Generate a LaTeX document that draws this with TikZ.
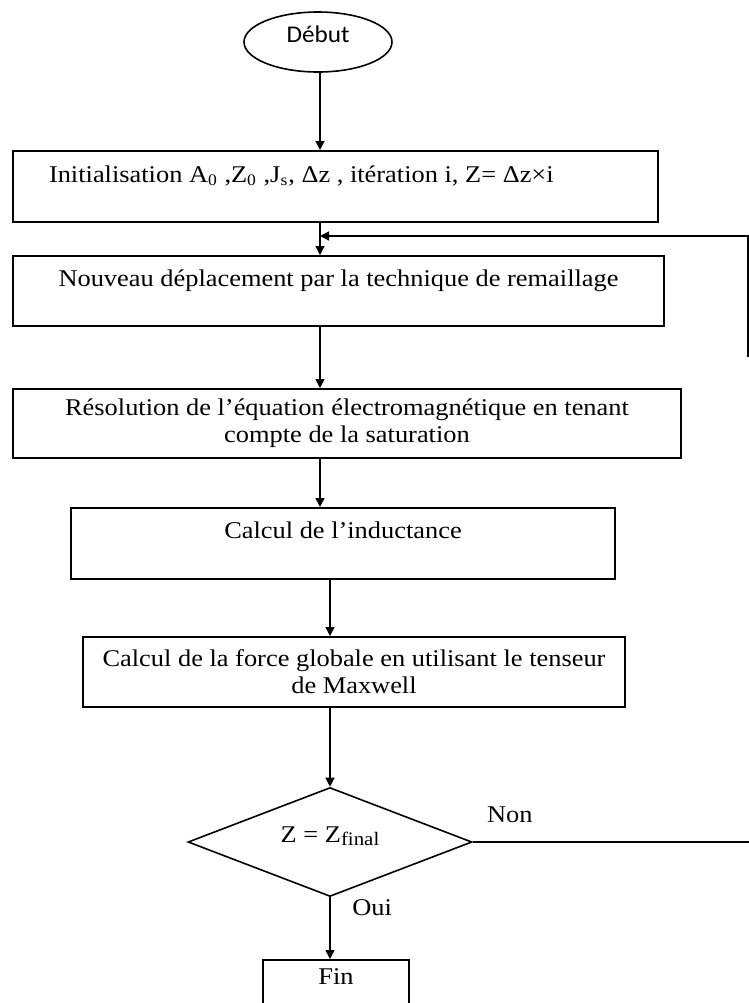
\documentclass[tikz,border=0pt]{standalone}
\usepackage{fontspec}
\setmainfont[FakeStretch=1.1]{Liberation Serif}
\newfontfamily\calibrifont[FakeStretch=1.05]{Carlito}
\usetikzlibrary{shapes.geometric,arrows.meta}

\begin{document}
\begin{tikzpicture}[x=0.5pt,y=-0.5pt,
        font=\fontsize{12}{13.5}\selectfont,
        stepbox/.style={draw,line width=1pt,rectangle,inner sep=0pt,anchor=north west,align=center},
        flow/.style={line width=0.7pt,-{Triangle[length=4.5pt,width=4.5pt]}},
        plain/.style={line width=0.7pt}]
    \useasboundingbox (0,0) rectangle (749,1003);
    \coordinate (axis) at (320,0);

    \node[draw,ellipse,line width=0.8pt,minimum width=74pt,minimum height=30pt,inner sep=0pt,
        text height=4pt,text depth=4pt,font=\calibrifont\fontsize{12}{14}\selectfont] (start) at (318,42) {Début};
    \node[stepbox,text height=15.5pt,text depth=20pt] (init) at (12,150)
        {\makebox[322.5pt][l]{\hspace{18pt}Initialisation A\textsubscript{0} ,Z\textsubscript{0} ,J\textsubscript{s}, Δz , itération i, Z= Δz×i}};
    \node[stepbox,minimum width=325.5pt,text height=15pt,text depth=20pt] (remesh) at (12,255)
        {Nouveau déplacement par la technique de remaillage};
    \node[stepbox,minimum width=334pt,minimum height=34.5pt] (solve) at (12,388)
        {Résolution de l’équation électromagnétique en tenant\\compte de la saturation};
    \node[stepbox,minimum width=272pt,text height=15pt,text depth=20.5pt] (induct) at (70,507)
        {Calcul de l’inductance};
    \node[stepbox,minimum width=271pt,minimum height=35pt] (force) at (82,636)
        {Calcul de la force globale en utilisant le tenseur\\de Maxwell};
    \node[draw,diamond,aspect=2.6,line width=0.8pt,minimum width=142pt,minimum height=54.5pt,inner sep=0pt,
        text height=4pt,text depth=4pt] (test) at (330,842)
        {Z = Z\raisebox{-0.35ex}{\fontsize{9.5}{10}\selectfont final}};
    \node[stepbox,minimum width=73pt,text height=12pt,text depth=20pt] (stop) at (262,959) {Fin};

    \coordinate (loop top) at (748,236);
    \coordinate (loop end) at (748,357);
    \coordinate (non end) at (749,842);

    \draw[flow] (start.south -| axis) -- (init.north -| axis);
    \draw[flow] (init.south -| axis) -- (remesh.north -| axis);
    \draw[flow] (loop end) -- (loop top) -- (loop top -| axis);
    \draw[flow] (remesh.south -| axis) -- (solve.north -| axis);
    \draw[flow] (solve.south -| axis) -- (induct.north -| axis);
    \draw[flow] (induct.south -| test.north) -- (force.north -| test.north);
    \draw[flow] (force.south -| test.north) -- (test.north);
    \draw[flow] (test.south) -- node[pos=0,anchor=base west,xshift=7.5pt,yshift=-9pt] {Oui} (stop.north -| test.south);
    \draw[plain] (test.east) -- node[pos=0,anchor=base west,xshift=3.5pt,yshift=10pt] {Non} (non end);
\end{tikzpicture}
\end{document}
